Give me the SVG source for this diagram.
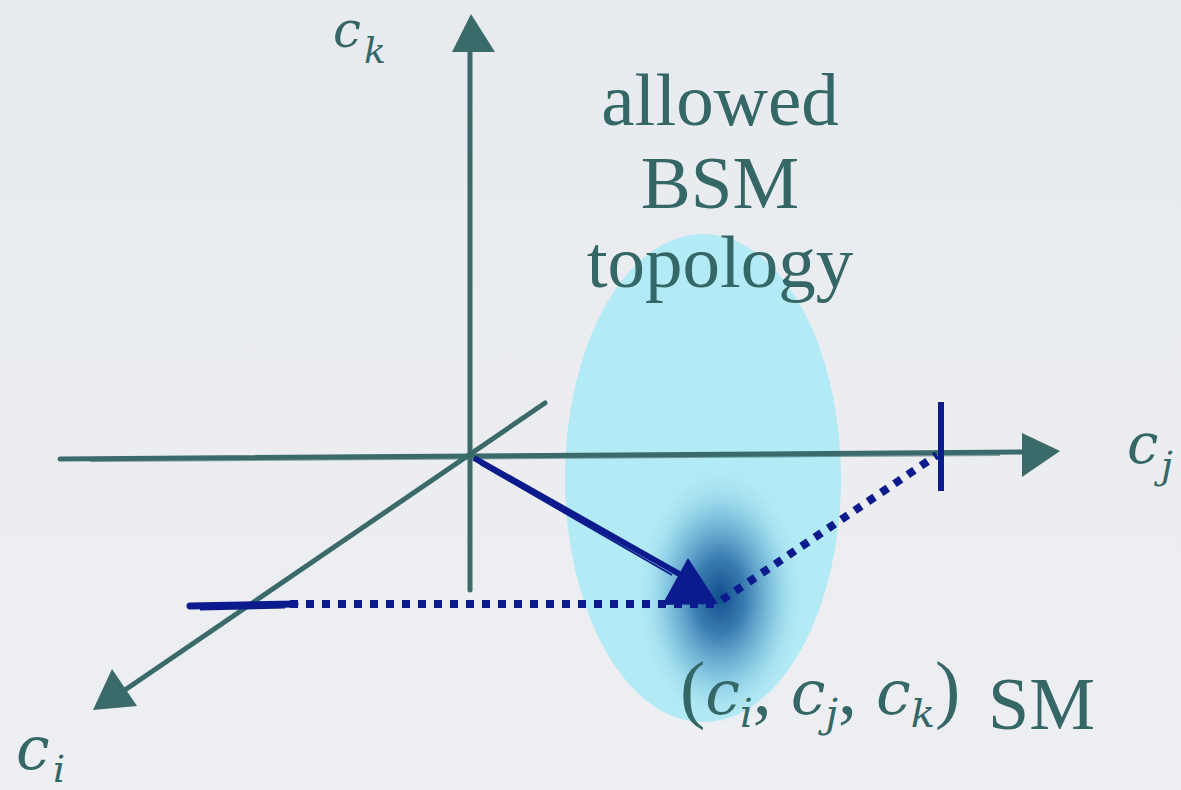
<svg xmlns="http://www.w3.org/2000/svg" width="1181" height="790" viewBox="0 0 1181 790">
<defs>
<linearGradient id="bg" x1="0" y1="0" x2="0" y2="1">
<stop offset="0" stop-color="#e7eaee"/>
<stop offset="1" stop-color="#eeeff3"/>
</linearGradient>
<radialGradient id="blob" cx="0.5" cy="0.5" r="0.5">
<stop offset="0" stop-color="#124f8c"/>
<stop offset="0.3" stop-color="#3a7db2"/>
<stop offset="0.65" stop-color="#7fc2de" stop-opacity="0.8"/>
<stop offset="1" stop-color="#b2eaf5" stop-opacity="0"/>
</radialGradient>
<style>
.axis{stroke:#3b6a6a;stroke-width:5;fill:none;stroke-linecap:round}
.axisThin{stroke:#3b6a6a;stroke-width:2;fill:none;opacity:0.6}
.head{fill:#3b6a6a}
.blue{stroke:#0b1b8e;fill:none}
.dots{stroke:#0b1b8e;stroke-width:8;stroke-dasharray:8 8;fill:none}
.lbl{font-family:"Liberation Serif",serif;fill:#356767}
.it{font-family:"DejaVu Serif",serif;font-style:italic}
</style>
</defs>
<rect width="1181" height="790" fill="url(#bg)"/>
<g id="region">
<ellipse cx="703" cy="478" rx="138" ry="244" fill="#b2eaf5"/>
<ellipse cx="720" cy="596" rx="85" ry="130" fill="url(#blob)"/>
</g>
<g id="connectors">
<g id="axis-k">
<line class="axis" x1="470" y1="590" x2="470" y2="50"/>
<polygon class="head" points="471,14 452,52 495,52"/>
</g>
<g id="axis-j">
<line class="axis" x1="60" y1="459" x2="1025" y2="452"/>
<line class="axisThin" x1="90" y1="461" x2="1000" y2="455"/>
<polygon class="head" points="1022,433 1060,451 1022,477"/>
</g>
<g id="axis-i">
<line class="axis" x1="545" y1="403" x2="122" y2="692" stroke-width="4"/>
<polygon class="head" points="93,710 112,669 137,706"/>
</g>
<g id="vector">
<line class="blue" x1="474" y1="458" x2="690" y2="580" stroke-width="6"/>
<line class="blue" x1="480" y1="464" x2="672" y2="575" stroke-width="2"/>
<polygon fill="#0b1b8e" points="688,558 662,605 718,604"/>
</g>
<g id="projections">
<path class="blue" d="M190,606 L295,604" stroke-width="7" stroke-linecap="round"/>
<path class="blue" d="M200,609 L285,607" stroke-width="3"/>
<line class="dots" x1="290" y1="604" x2="720" y2="604"/>
<line class="dots" x1="722" y1="600" x2="937" y2="455"/>
<line class="blue" x1="941" y1="402" x2="941" y2="491" stroke-width="6"/>
</g>
</g>
<g id="label-region" class="lbl" font-size="75" text-anchor="middle">
<text x="720" y="125">allowed</text>
<text x="720" y="208">BSM</text>
<text x="720" y="287">topology</text>
</g>
<g id="label-ck" class="lbl">
<text x="333" y="47" font-size="50" class="it">c</text>
<text x="364" y="63" font-size="36" class="it">k</text>
</g>
<g id="label-cj" class="lbl">
<text x="1127" y="463" font-size="56" class="it">c</text>
<text x="1161" y="478" font-size="38" class="it">j</text>
</g>
<g id="label-ci" class="lbl">
<text x="16" y="769" font-size="60" class="it">c</text>
<text x="53" y="782" font-size="38" class="it">i</text>
</g>
<g id="label-sm" class="lbl">
<text x="680" y="714" font-size="76">(<tspan class="it" font-size="62">c</tspan><tspan class="it" font-size="40" dy="13">i</tspan><tspan dy="-13">, </tspan><tspan class="it" font-size="62">c</tspan><tspan class="it" font-size="40" dy="13">j</tspan><tspan dy="-13">, </tspan><tspan class="it" font-size="62">c</tspan><tspan class="it" font-size="40" dy="13">k</tspan><tspan dy="-13">)</tspan></text>
<text x="988" y="729" font-size="74">SM</text>
</g>
</svg>
